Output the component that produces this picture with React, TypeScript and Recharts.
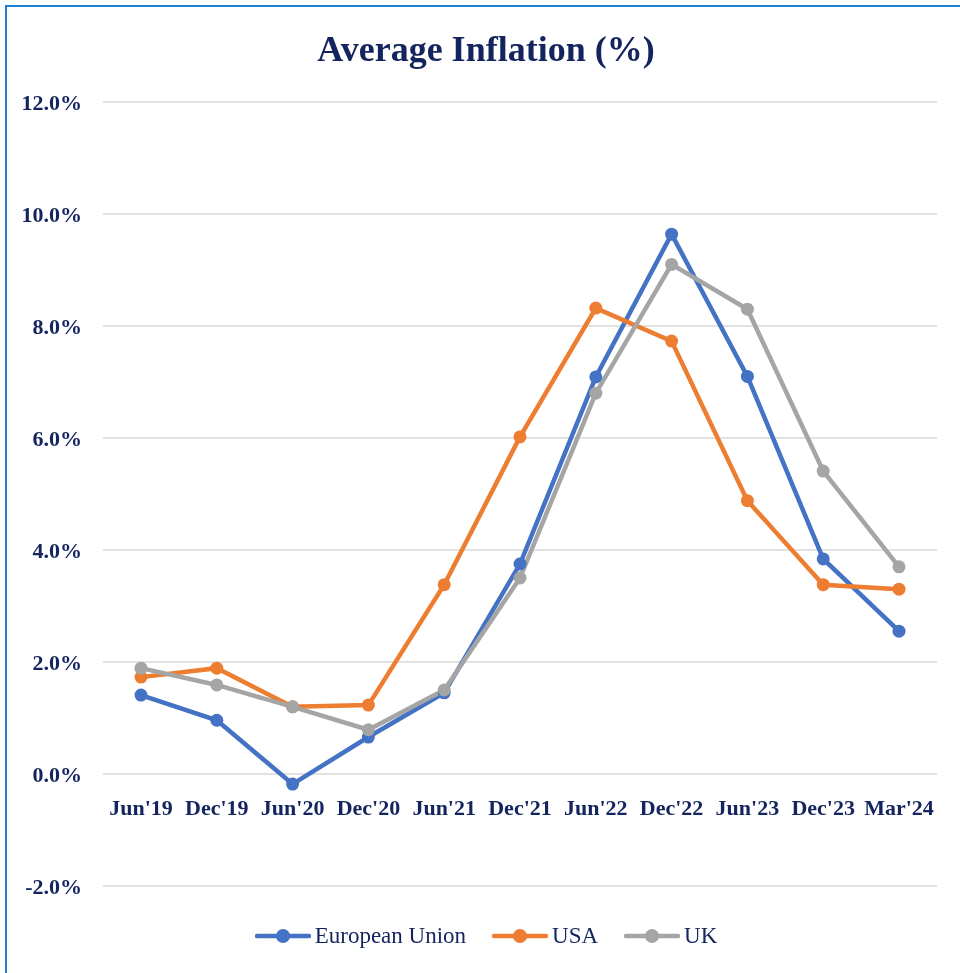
import React from "react";
import { LineChart, Line, XAxis, YAxis, CartesianGrid } from "recharts";

const periods = ["Jun'19", "Dec'19", "Jun'20", "Dec'20", "Jun'21", "Dec'21", "Jun'22", "Dec'22", "Jun'23", "Dec'23", "Mar'24"];
const euValues = [1.41, 0.96, -0.18, 0.66, 1.45, 3.75, 7.09, 9.64, 7.1, 3.84, 2.55];
const usaValues = [1.73, 1.89, 1.2, 1.23, 3.38, 6.02, 8.32, 7.73, 4.88, 3.38, 3.3];
const ukValues = [1.89, 1.59, 1.2, 0.79, 1.5, 3.5, 6.8, 9.1, 8.3, 5.41, 3.7];
const yTicks = [-2, 0, 2, 4, 6, 8, 10, 12];

const series = [
  { key: "eu", name: "European Union", color: "#4472C4" },
  { key: "usa", name: "USA", color: "#ED7D31" },
  { key: "uk", name: "UK", color: "#A5A5A5" },
];

const data = periods.map((p, i) => ({ period: p, eu: euValues[i], usa: usaValues[i], uk: ukValues[i] }));

const NAVY = "#13245E";
const FONT = "'Liberation Serif', 'Times New Roman', serif";
const W = 953;
const H = 966;
const MARGIN = { top: 95, right: 23, left: 0, bottom: 57 };
const X_AXIS_H = 30;
const PLOT_H = H - MARGIN.top - MARGIN.bottom - X_AXIS_H;
const Y_MIN = -2;
const Y_MAX = 12;
// labels sit under the 0% line, not at the bottom of the plot
const ZERO_SHIFT = (PLOT_H * (0 - Y_MIN)) / (Y_MAX - Y_MIN);

const XTick = (props: any) => {
  const { x, y, payload } = props;
  return (
    <text x={x} y={y - ZERO_SHIFT + 39} textAnchor="middle" fill={NAVY} fontFamily={FONT} fontWeight="bold" fontSize={22}>
      {payload.value}
    </text>
  );
};

export default function App() {
  return (
    <div style={{ position: "relative", width: W, height: H, fontFamily: FONT }}>
      {/* frame: fixed so it can sit a few px outside the root */}
      <div
        style={{
          position: "fixed",
          left: 5,
          top: 5,
          width: 1000,
          height: 1000,
          borderTop: "2px solid #1B7FD2",
          borderLeft: "2px solid #1B7FD2",
          pointerEvents: "none",
        }}
      />
      <div
        style={{
          position: "absolute",
          top: 19,
          left: -1,
          width: 958,
          textAlign: "center",
          fontSize: 36,
          lineHeight: "44px",
          fontWeight: "bold",
          color: NAVY,
        }}
      >
        Average Inflation (%)
      </div>
      <div style={{ position: "absolute", left: -1, top: -1 }}>
        <LineChart width={W} height={H} data={data} margin={MARGIN}>
          <CartesianGrid horizontal={true} vertical={false} stroke="#D9D9D9" strokeWidth={1.5} />
          <XAxis
            dataKey="period"
            height={X_AXIS_H}
            padding={{ left: 38, right: 38 }}
            axisLine={false}
            tickLine={false}
            tickSize={0}
            interval={0}
            tick={<XTick />}
          />
          <YAxis
            width={96}
            domain={[Y_MIN, Y_MAX]}
            ticks={yTicks}
            axisLine={false}
            tickLine={false}
            tickSize={0}
            tickMargin={21}
            tickFormatter={(v: number) => v.toFixed(1) + "%"}
            tick={{ fill: NAVY, fontFamily: FONT, fontWeight: "bold", fontSize: 22 }}
          />
          {series.map((s) => (
            <Line
              key={s.key}
              type="linear"
              dataKey={s.key}
              name={s.name}
              stroke={s.color}
              strokeWidth={4.5}
              dot={{ r: 6.5, fill: s.color, stroke: s.color, strokeWidth: 0 }}
              activeDot={false}
              isAnimationActive={false}
            />
          ))}
        </LineChart>
      </div>
      <div
        style={{
          position: "absolute",
          top: 915,
          left: -1,
          width: 958,
          display: "flex",
          justifyContent: "center",
          gap: 26,
          color: NAVY,
          fontSize: 23,
        }}
      >
        {series.map((s) => (
          <div key={s.key} style={{ display: "flex", alignItems: "center", gap: 4 }}>
            <svg width={56} height={16}>
              <line x1={2} y1={8} x2={54} y2={8} stroke={s.color} strokeWidth={4.5} strokeLinecap="round" />
              <circle cx={28} cy={8} r={7} fill={s.color} />
            </svg>
            <span>{s.name}</span>
          </div>
        ))}
      </div>
    </div>
  );
}
